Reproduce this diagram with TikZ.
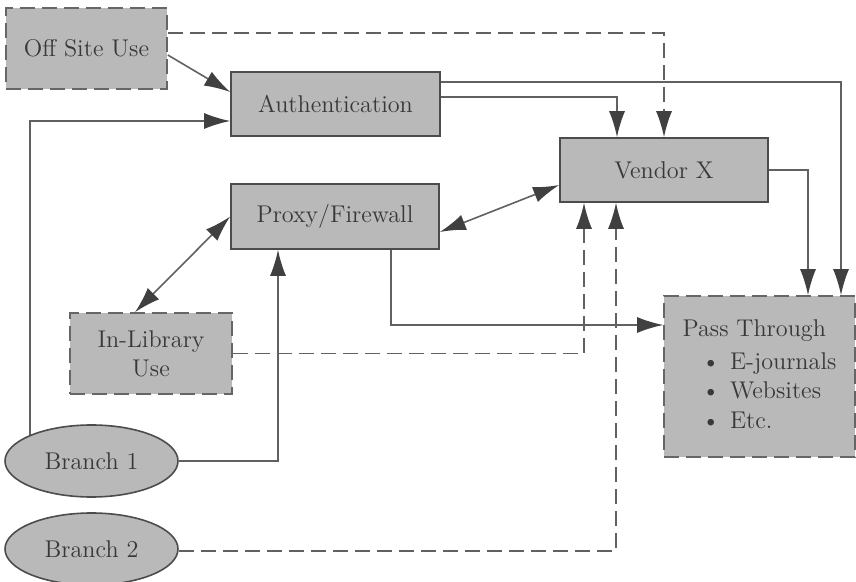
\documentclass[tikz,border=0pt]{standalone}
\usepackage{xcolor}
\usepackage{tikz}
\usetikzlibrary{arrows.meta,shapes.geometric}

\tikzset{
  boxnode/.style={draw=black!70, fill=gray!55, text=black!78, line width=0.8pt,
    inner sep=0pt, font=\fontsize{12.1}{14.6}\selectfont, align=center},
  dashbox/.style={boxnode, draw=black!60, dash pattern=on 7.5pt off 3.5pt},
  branchnode/.style={boxnode, ellipse, minimum width=86.5pt, minimum height=36pt},
  link/.style={draw=black!62, line width=0.8pt, -{Latex[length=13pt,width=8pt,color=black!75]}},
  dashlink/.style={link, dash pattern=on 7.5pt off 3.5pt},
  twolink/.style={link, {Latex[length=13pt,width=8pt,color=black!75]}-{Latex[length=13pt,width=8pt,color=black!75]}}
}

\begin{document}
\begin{tikzpicture}[x=0.5pt, y=-0.5pt]
             \useasboundingbox (0,0) rectangle (856,582);

             \node[dashbox, minimum width=80.5pt, minimum height=40.5pt] (offsite) at (86.5, 48.5) {Off Site Use};
             \node[boxnode, minimum width=104.5pt, minimum height=32pt] (auth) at (335.5, 104) {Authentication};
             \node[boxnode, minimum width=104pt, minimum height=32pt] (vendor) at (664, 170) {Vendor X};
             \node[boxnode, minimum width=104pt, minimum height=32.5pt] (proxy) at (335, 216.5) {Proxy/Firewall};
             \node[dashbox, minimum width=81pt, minimum height=40.5pt] (inlib) at (151, 353.5) {In-Library\\Use};
             \node[dashbox, minimum width=95.5pt, minimum height=80.5pt] (pass) at (759.5, 376.5)
                  {\begin{tabular}{@{}l@{}}
                   Pass Through\\[2pt]
                   \hspace*{9.5pt}\textbullet\hspace{5pt}E-journals\\
                   \hspace*{9.5pt}\textbullet\hspace{5pt}Websites\\
                   \hspace*{9.5pt}\textbullet\hspace{5pt}Etc.
                   \end{tabular}};
             \node[branchnode] (branchA) at (91.5, 461) {Branch 1};
             \node[branchnode] (branchB) at (91.5, 549) {Branch 2};

             \draw[link] ([yshift=-3.25pt]offsite.east) -- ([yshift=6pt]auth.west);
             \draw[dashlink] ([yshift=7.75pt]offsite.east) -| (vendor.north);
             \draw[link] ([yshift=3.5pt]auth.east) -| ([xshift=-23.5pt]vendor.north);
             \draw[link] ([yshift=11pt]auth.east) -| ([xshift=40.75pt]pass.north);
             \draw[link] (vendor.east) -| ([xshift=24.25pt]pass.north);

             \draw[twolink] ([yshift=-7.75pt]proxy.east) -- ([yshift=-7.5pt]vendor.west);
             \draw[twolink] (proxy.west) -- ([xshift=-8pt]inlib.north);
             \draw[link] ([xshift=28pt]proxy.south) |- ([yshift=25.75pt]pass.west);

             \draw[dashlink] (inlib.east) -| ([xshift=-40pt]vendor.south);
             \draw[dashlink] ([yshift=-1pt]branchB.east) -| ([xshift=-24pt]vendor.south);
             \draw[link] (branchA.east) -| ([xshift=-28.5pt]proxy.south);
             \draw[link] (branchA.north west) |- ([yshift=-8.5pt]auth.west);
\end{tikzpicture}
\end{document}
